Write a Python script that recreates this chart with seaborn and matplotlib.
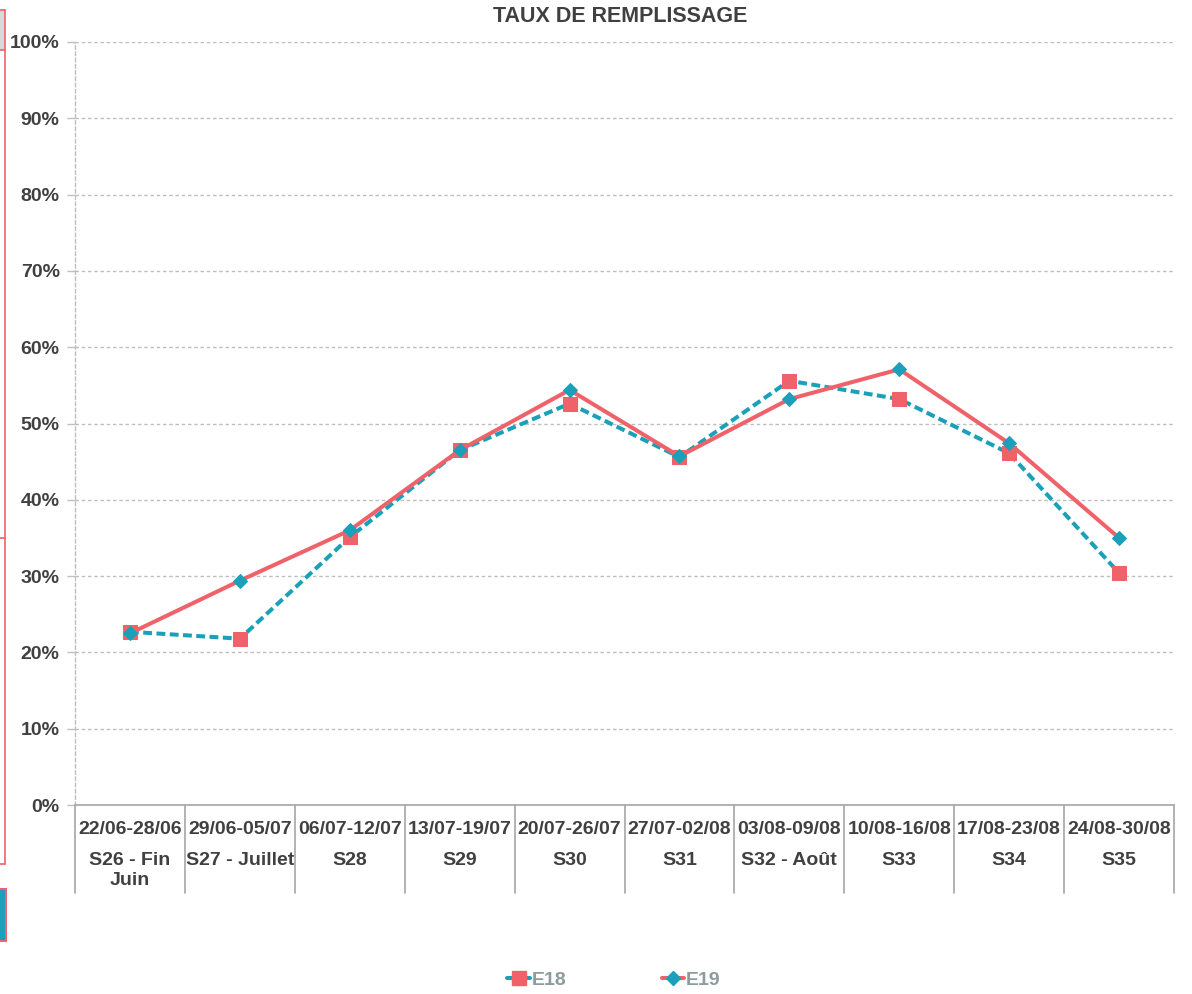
import matplotlib
matplotlib.use("Agg")
import matplotlib.pyplot as plt
from matplotlib.lines import Line2D
from matplotlib.patches import Rectangle
import matplotlib.transforms as mtransforms
import seaborn as sns
import pandas as pd

# ---- data ----
dates = ["22/06-28/06", "29/06-05/07", "06/07-12/07", "13/07-19/07", "20/07-26/07",
         "27/07-02/08", "03/08-09/08", "10/08-16/08", "17/08-23/08", "24/08-30/08"]
weeks = ["S26 - Fin\nJuin", "S27 - Juillet", "S28", "S29", "S30",
         "S31", "S32 - Août", "S33", "S34", "S35"]
e18 = [22.7, 21.8, 35.1, 46.5, 52.6, 45.6, 55.6, 53.2, 46.1, 30.4]
e19 = [22.5, 29.4, 36.0, 46.5, 54.4, 45.7, 53.2, 57.1, 47.4, 35.0]
yticks = [0, 10, 20, 30, 40, 50, 60, 70, 80, 90, 100]

RED = "#F0626A"
TEAL = "#1AA0B8"
TXT = "#404040"
GRID = "#bfbfbf"

sns.set_style("white")
plt.rcParams["font.family"] = ["Liberation Sans", "DejaVu Sans"]

W, H = 1192, 994
fig = plt.figure(figsize=(W / 100, H / 100), dpi=100)
ax = fig.add_axes([75 / W, (H - 805) / H, (1174 - 75) / W, (805 - 42) / H])

df = pd.DataFrame({"idx": list(range(len(dates))), "E18": e18, "E19": e19})

sns.lineplot(data=df, x="idx", y="E18", ax=ax, color=TEAL, lw=2.9,
             linestyle=(0, (2.2, 1.1)), marker="s", markersize=9.5,
             markerfacecolor=RED, markeredgecolor=RED, zorder=3)
sns.lineplot(data=df, x="idx", y="E19", ax=ax, color=RED, lw=2.9,
             linestyle="-", marker="D", markersize=7.5,
             markerfacecolor=TEAL, markeredgecolor=TEAL, zorder=4)

ax.set_xlim(-0.5, len(dates) - 0.5)
ax.set_ylim(0, 100)
ax.set_yticks(yticks)
ax.set_yticklabels([f"{v}%" for v in yticks], fontsize=14, fontweight="bold", color=TXT)
ax.tick_params(axis="y", length=6, width=1, color=GRID, pad=5, left=True)
ax.set_xticks([])
ax.set_xlabel("")
ax.set_ylabel("")
ax.yaxis.grid(True, color=GRID, linestyle=(0, (2.5, 2)), linewidth=1)
ax.xaxis.grid(False)

for s in ["top", "right"]:
    ax.spines[s].set_visible(False)
ax.spines["left"].set_color(GRID)
ax.spines["left"].set_linestyle((0, (2.5, 2)))
ax.spines["left"].set_linewidth(1)
ax.spines["bottom"].set_color("#a6a6a6")
ax.spines["bottom"].set_linewidth(1.2)

# category axis labels (two rows) and separators
trans = mtransforms.blended_transform_factory(ax.transData, ax.transAxes)
ah = 805 - 42
for i, (d, w) in enumerate(zip(dates, weeks)):
    ax.text(i, -(830 - 805) / ah, d, transform=trans, ha="center", va="center",
            fontsize=14, fontweight="bold", color=TXT)
    ax.text(i, -(852 - 805) / ah, w, transform=trans, ha="center", va="top",
            fontsize=14, fontweight="bold", color=TXT, linespacing=1.2)
for b in range(len(dates) + 1):
    ax.add_line(Line2D([b - 0.5, b - 0.5], [0, -(893 - 805) / ah], transform=trans,
                       color="#a6a6a6", lw=1.2, clip_on=False))

fig.text(620 / W, (H - 17) / H, "TAUX DE REMPLISSAGE", ha="center", va="center",
         fontsize=15.5, fontweight="bold", color=TXT)

# legend
handles = [
    Line2D([], [], color=TEAL, lw=2.9, marker="s", markersize=9.5,
           markerfacecolor=RED, markeredgecolor=RED),
    Line2D([], [], color=RED, lw=2.9, marker="D", markersize=7.5,
           markerfacecolor=TEAL, markeredgecolor=TEAL),
]
leg = fig.legend(handles, ["E18", "E19"], loc="center", bbox_to_anchor=(614 / W, (H - 980) / H),
                 ncol=2, frameon=False, handlelength=1.15, handletextpad=0.1,
                 columnspacing=4.9, prop={"size": 14, "weight": "bold"})
for t in leg.get_texts():
    t.set_color("#8C9B9B")

# left-edge artefacts
def fy(y):
    return (H - y) / H

tf = fig.transFigure
fig.add_artist(Rectangle((0, fy(50)), 5 / W, 40 / H, transform=tf,
                         facecolor="#d9d9d9", edgecolor="none"))
fig.add_artist(Line2D([5 / W, 5 / W], [fy(10), fy(864)], transform=tf, color=RED, lw=1.2))
for yy in [10, 50, 538, 864]:
    fig.add_artist(Line2D([0, 5 / W], [fy(yy), fy(yy)], transform=tf, color=RED, lw=1.2))
fig.add_artist(Rectangle((0, fy(942)), 7 / W, 54 / H, transform=tf,
                         facecolor=RED, edgecolor="none"))
fig.add_artist(Rectangle((0, fy(940)), 5 / W, 50 / H, transform=tf,
                         facecolor=TEAL, edgecolor="none"))

fig.savefig("out.png", dpi=100, facecolor="white")
